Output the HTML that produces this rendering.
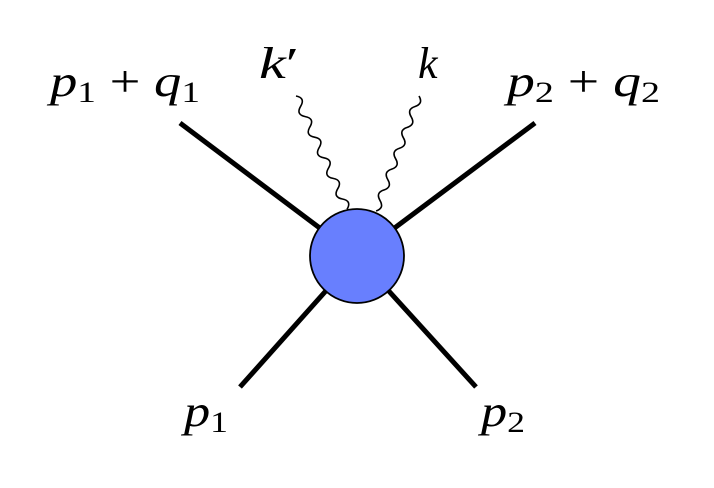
<!DOCTYPE html>
<html><head><meta charset="utf-8"><style>
html,body{margin:0;padding:0;background:#fff;width:714px;height:488px;overflow:hidden}
svg{display:block}
text{font-family:"Liberation Serif",serif;font-size:44px;fill:#000}
.i{font-style:italic}
</style></head><body>
<svg width="714" height="488" viewBox="0 0 714 488">
<g stroke="#000" stroke-width="5" stroke-linecap="butt">
<line x1="180" y1="123" x2="357" y2="256"/>
<line x1="535" y1="123" x2="357" y2="256"/>
<line x1="240" y1="387" x2="357" y2="256"/>
<line x1="476" y1="387" x2="357" y2="256"/>
</g>
<path fill="none" stroke="#000" stroke-width="1.6" d="M296 96 q9.6 1.85 4.64 10.3 q-4.96 8.45 4.64 10.3 q9.6 1.85 4.64 10.3 q-4.96 8.45 4.64 10.3 q9.6 1.85 4.64 10.3 q-4.96 8.45 4.64 10.3 q9.6 1.85 4.64 10.3 q-4.96 8.45 4.64 10.3 q9.6 1.85 4.64 10.3 q-4.96 8.45 4.64 10.3 q9.6 1.85 4.64 10.3"/>
<path fill="none" stroke="#000" stroke-width="1.6" d="M419 96 q4.55 7.64 -3.9 10.45 q-8.45 2.64 -3.9 10.45 q4.55 7.64 -3.9 10.45 q-8.45 2.64 -3.9 10.45 q4.55 7.64 -3.9 10.45 q-8.45 2.64 -3.9 10.45 q4.55 7.64 -3.9 10.45 q-8.45 2.64 -3.9 10.45 q4.55 7.64 -3.9 10.45 q-8.45 2.64 -3.9 10.45 q4.55 7.64 -3.9 10.45"/>
<circle cx="357" cy="256" r="47" fill="#687ffe" stroke="#000" stroke-width="1.8"/>
<text x="50" y="96" textLength="150" lengthAdjust="spacingAndGlyphs"><tspan class="i">p</tspan><tspan font-size="30" dy="6">1</tspan><tspan dy="-6"> + </tspan><tspan class="i">q</tspan><tspan font-size="30" dy="6">1</tspan></text>
<text x="507" y="96" textLength="153" lengthAdjust="spacingAndGlyphs"><tspan class="i">p</tspan><tspan font-size="30" dy="6">2</tspan><tspan dy="-6"> + </tspan><tspan class="i">q</tspan><tspan font-size="30" dy="6">2</tspan></text>
<text x="259" y="78" textLength="40" lengthAdjust="spacingAndGlyphs"><tspan class="i">k</tspan>′</text>
<text x="418" y="78" class="i">k</text>
<text x="184" y="426" textLength="44" lengthAdjust="spacingAndGlyphs"><tspan class="i">p</tspan><tspan font-size="30" dy="6">1</tspan></text>
<text x="481" y="426" textLength="44" lengthAdjust="spacingAndGlyphs"><tspan class="i">p</tspan><tspan font-size="30" dy="6">2</tspan></text>
</svg>
</body></html>
